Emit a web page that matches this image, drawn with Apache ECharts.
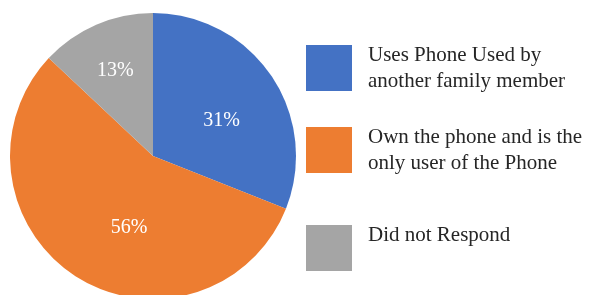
<!DOCTYPE html>
<html><head><meta charset="utf-8">
<script src="https://cdn.jsdelivr.net/npm/echarts@6/dist/echarts.min.js"></script>
<style>html,body{margin:0;padding:0;background:#fff}#c{width:589px;height:295px}</style>
</head><body><div id="c"></div>
<script>
const categories = ['Uses Phone Used by\nanother family member', 'Own the phone and is the\nonly user of the Phone', 'Did not Respond'];
const values = [31, 56, 13];
const colors = ['#4472C4', '#ED7D31', '#A5A5A5'];
const labelOffsets = [[7, 7], [16, 9], [-8, -17]];
const legendTops = [42, 124, 222];

const chart = echarts.init(document.getElementById('c'), null, {renderer: 'canvas'});
const font = '"Liberation Serif", "Times New Roman", serif';
chart.setOption({
  animation: false,
  color: colors,
  legend: categories.map((name, i) => ({
    data: [name],
    left: 306,
    top: legendTops[i],
    padding: 0,
    itemWidth: 46,
    itemHeight: 46,
    itemGap: 0,
    icon: 'rect',
    selectedMode: false,
    formatter: n => (n.indexOf('\n') < 0 ? n + '\n ' : n),
    textStyle: {fontFamily: font, fontSize: 21, color: '#262626', lineHeight: 26, padding: [0, 0, 0, 11]}
  })),
  series: [{
    type: 'pie',
    center: [153, 156],
    radius: 143,
    startAngle: 90,
    clockwise: true,
    silent: true,
    label: {
      show: true,
      position: 'inside',
      formatter: '{c}%',
      color: '#fff',
      fontFamily: font,
      fontSize: 20
    },
    labelLine: {show: false},
    itemStyle: {borderWidth: 0},
    data: categories.map((name, i) => ({name, value: values[i], label: {offset: labelOffsets[i]}}))
  }]
});
</script></body></html>
